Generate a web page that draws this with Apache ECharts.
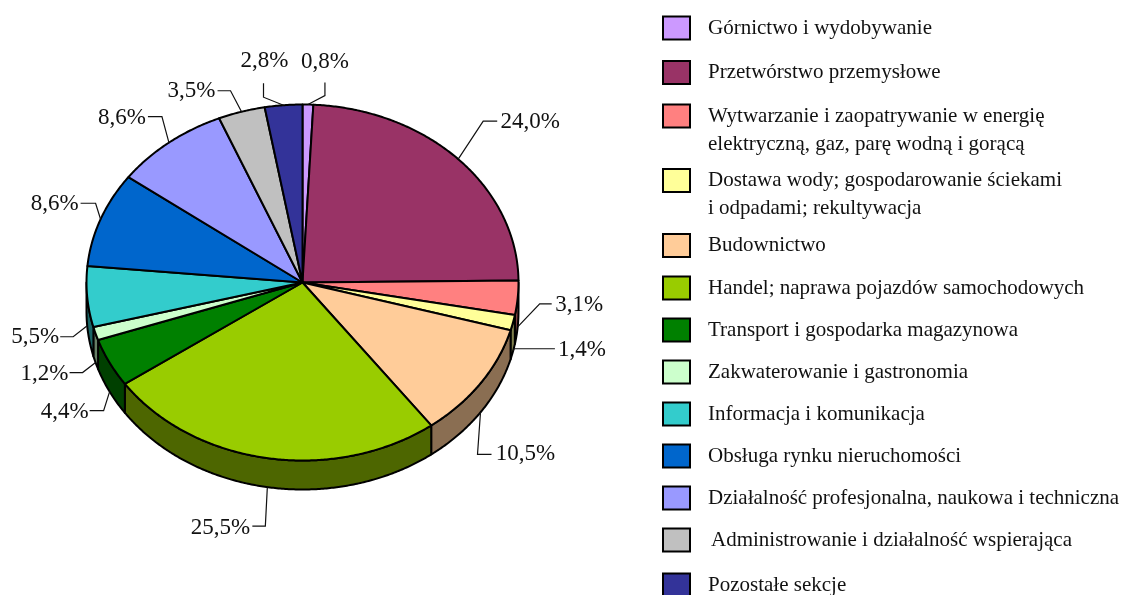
<!DOCTYPE html>
<html><head><meta charset="utf-8">
<style>html,body{margin:0;padding:0;background:#fff}#c{width:1136px;height:595px}</style>
<script src="https://cdn.jsdelivr.net/npm/echarts@6/dist/echarts.min.js"></script>
</head><body><div id="c"></div>
<script>
const categories = ['Górnictwo i wydobywanie','Przetwórstwo przemysłowe','Wytwarzanie i zaopatrywanie w energię\nelektryczną, gaz, parę wodną i gorącą','Dostawa wody; gospodarowanie ściekami\ni odpadami; rekultywacja','Budownictwo','Handel; naprawa pojazdów samochodowych','Transport i gospodarka magazynowa','Zakwaterowanie i gastronomia','Informacja i komunikacja','Obsługa rynku nieruchomości','Działalność profesjonalna, naukowa i techniczna','Administrowanie i działalność wspierająca','Pozostałe sekcje'];
const shares = [0.8,24.0,3.1,1.4,10.5,25.5,4.4,1.2,5.5,8.6,8.6,3.5,2.8];
const topColors = ['#cc99ff','#993366','#ff8080','#ffff99','#ffcc99','#99cc00','#008000','#ccffcc','#33cccc','#0066cc','#9999ff','#c0c0c0','#333399'];
const wallColors = ['#66497f','#4c1933','#7f4040','#7f7f4c','#8a6e52','#4d6600','#004000','#667f66','#1a6666','#003366','#4c4c7f','#606060','#19194c'];
// leader layout relative to the rim point: elbow dx,dy; stub dx,dy; text dx,dy
const leaderLayout = [[17,-9,0,-13,0,-21],[25,-38,14,0,33,1],[22,-23,12,0,27.5,1],[1,-3,41,0,27,1],[-3,42,14,0,34,0],[-2,39,-13,0,-32,2],[-6,19,-14,0,-25,1],[-13,10,-13,0,-25,1],[-14,11,-13,0,-25,0],[-5,-16,-15,0,-26,1],[-7,-26,-14,0,-26,1],[-11,-21,-13,0,-26,0],[-20,-8,0,-14,1,-22]];
const legendCenters = [28,72.5,116,180.5,245.5,288,330,372,414,456,498,540,585];
const legendTextPad = [13,13,13,13,13,13,13,13,13,13,13,16,13];

const CX=302.5, CY=282.5, RX=216, RY=178, DEPTH=29;
const SERIF='"Liberation Serif"';
const pt=(a,dy=0)=>[CX+RX*Math.sin(a),CY-RY*Math.cos(a)+dy];
const total=shares.reduce((s,v)=>s+v,0);
let acc=0;
const starts=shares.map(v=>{const s=acc;acc+=v;return s;});
function arc(a0,a1,dy){const n=Math.max(2,Math.ceil((a1-a0)/0.008));const r=[];for(let i=0;i<=n;i++)r.push(pt(a0+(a1-a0)*i/n,dy));return r;}

function renderSlice(i){return function(params,api){
  const v=api.value(0);
  const a0=starts[i]/total*2*Math.PI,a1=a0+v/total*2*Math.PI,mid=(a0+a1)/2;
  const kids=[];
  const f0=Math.max(a0,Math.PI/2),f1=Math.min(a1,1.5*Math.PI);
  if(f0<f1){
    kids.push({type:'polygon',shape:{points:arc(f0,f1,0).concat(arc(f0,f1,DEPTH).reverse())},style:{fill:wallColors[i],stroke:'#000',lineWidth:2,lineJoin:'round'},silent:true});
  }
  kids.push({type:'polygon',shape:{points:[[CX,CY]].concat(arc(a0,a1,0))},style:{fill:topColors[i],stroke:'#000',lineWidth:2,lineJoin:'round'},silent:true});
  const front=Math.cos(mid)<0;
  const rim=pt(mid,front?DEPTH:0);
  const L=leaderLayout[i];
  const e=[rim[0]+L[0],rim[1]+L[1]],f=[e[0]+L[2],e[1]+L[3]];
  kids.push({type:'polyline',shape:{points:[rim,e,f]},style:{fill:null,stroke:'#111',lineWidth:1.2},silent:true});
  kids.push({type:'text',style:{x:f[0]+L[4],y:f[1]+L[5],text:v.toFixed(1).replace('.',',')+'%',fill:'#111',font:'23px '+SERIF,align:'center',verticalAlign:'middle'},silent:true});
  return {type:'group',children:kids};
};}

const series=categories.map((name,i)=>({type:'custom',name,coordinateSystem:'none',data:[[shares[i]]],renderItem:renderSlice(i),itemStyle:{color:topColors[i]},animation:false,silent:true,z:2}));
const legend=categories.map((name,i)=>{
  const two=name.includes('\n');
  return {show:true,data:[name],left:662,top:two?legendCenters[i]-42:legendCenters[i]-14,padding:0,orient:'vertical',itemWidth:27,itemHeight:23,icon:'rect',selectedMode:false,
    formatter:n=>two?'\n'+n:n,
    itemStyle:{borderColor:'#000',borderWidth:2},
    textStyle:{fontFamily:SERIF,fontSize:21,color:'#111',lineHeight:28,padding:[0,0,0,legendTextPad[i]]}};
});
const chart=echarts.init(document.getElementById('c'),null,{renderer:'canvas'});
chart.setOption({animation:false,backgroundColor:'#fff',tooltip:{show:false},legend,series});
</script></body></html>
